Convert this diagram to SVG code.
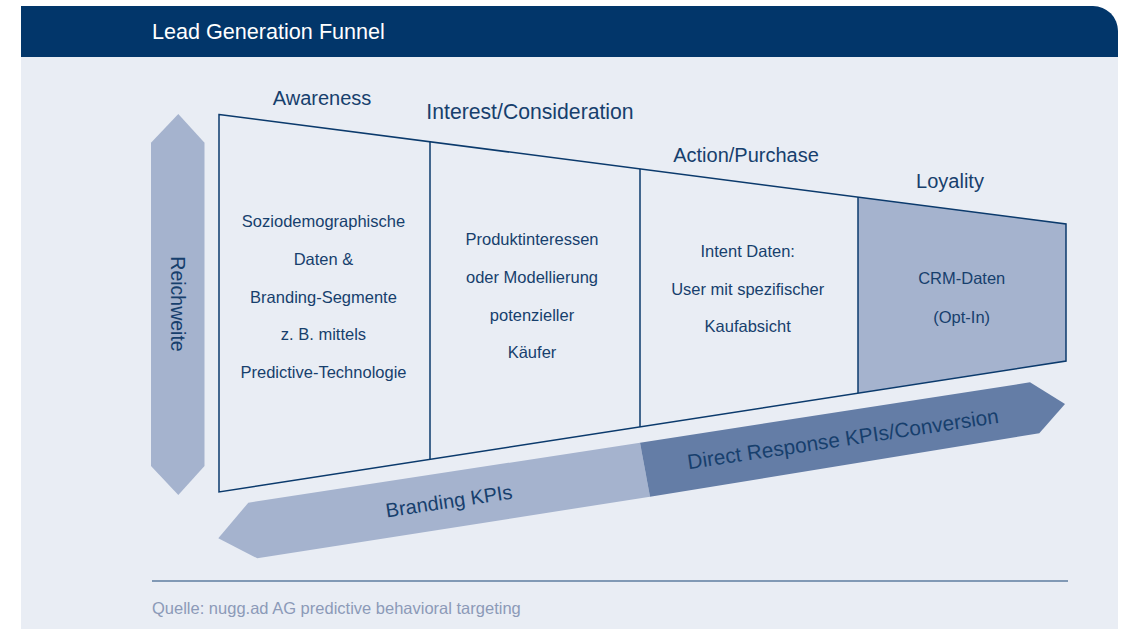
<svg xmlns="http://www.w3.org/2000/svg" width="1121" height="629" viewBox="0 0 1121 629">
  <style>
    .lbl { font-family: "Liberation Sans", Arial, sans-serif; fill: #173F6D; }
    .stage { font-size: 20px; text-anchor: middle; }
    .body { font-size: 16.5px; text-anchor: middle; }
    .band { font-size: 20px; text-anchor: middle; }
    .edge { fill: none; stroke: #0B3A6C; stroke-width: 1.5; }
    .light { fill: #A5B3CE; }
    .dark { fill: #647DA6; }
  </style>

  <!-- page and panel -->
  <rect x="0" y="0" width="1121" height="629" fill="#FFFFFF"/>
  <rect x="21" y="57" width="1097" height="572" fill="#E9EDF4"/>
  <path d="M21,6 H1093 A25,25 0 0 1 1118,31 V57 H21 Z" fill="#02366A"/>
  <text x="152" y="39" font-family="'Liberation Sans', Arial, sans-serif" font-size="21.6" fill="#FFFFFF">Lead Generation Funnel</text>

  <!-- reach arrow -->
  <g id="reichweite">
    <polygon class="light" points="178.3,114 204.5,142.7 204.5,466 178.3,495 151,466 151,142.7"/>
    <text class="lbl" transform="translate(177.5,304) rotate(90)" x="0" y="7" font-size="19.5" text-anchor="middle">Reichweite</text>
  </g>

  <!-- KPI band -->
  <g id="branding-kpis">
    <polygon class="light" points="248.3,502.7 640,442.7 650,496.7 257.3,558.3 218.3,538.3"/>
    <text class="lbl band" transform="translate(450,508) rotate(-8.5)">Branding KPIs</text>
  </g>
  <g id="direct-response-kpis">
    <polygon class="dark" points="640,442.7 1030,382.3 1065,404 1039.3,433.3 650,496.7"/>
    <text class="lbl band" transform="translate(844,446) rotate(-8.5)" style="font-size:20.8px">Direct Response KPIs/Conversion</text>
  </g>

  <!-- funnel stages -->
  <g id="stage-loyality">
    <polygon class="light" points="858,197.1 1066,224 1066,361 858,393.1"/>
    <text class="lbl stage" x="950" y="188">Loyality</text>
    <text class="lbl body" x="961.7" y="284.3">CRM-Daten</text>
    <text class="lbl body" x="961.7" y="323.3">(Opt-In)</text>
  </g>
  <g id="stage-awareness">
    <text class="lbl stage" x="322" y="104.5">Awareness</text>
    <text class="lbl body" x="323.5" y="226.7">Soziodemographische</text>
    <text class="lbl body" x="323.5" y="265">Daten &amp;</text>
    <text class="lbl body" x="323.5" y="302.7">Branding-Segmente</text>
    <text class="lbl body" x="323.5" y="340">z. B. mittels</text>
    <text class="lbl body" x="323.5" y="378">Predictive-Technologie</text>
  </g>
  <g id="stage-interest">
    <text class="lbl stage" x="530" y="118.5" style="font-size:21.2px">Interest/Consideration</text>
    <text class="lbl body" x="532" y="245">Produktinteressen</text>
    <text class="lbl body" x="532" y="282.7">oder Modellierung</text>
    <text class="lbl body" x="532" y="320.7">potenzieller</text>
    <text class="lbl body" x="532" y="358.3">Käufer</text>
  </g>
  <g id="stage-action">
    <text class="lbl stage" x="746" y="161.5">Action/Purchase</text>
    <text class="lbl body" x="747.7" y="257.3">Intent Daten:</text>
    <text class="lbl body" x="747.7" y="295">User mit spezifischer</text>
    <text class="lbl body" x="747.7" y="331.7">Kaufabsicht</text>
  </g>

  <!-- funnel outline and stage dividers -->
  <g id="connectors">
    <polygon class="edge" points="219,114.5 1066,224 1066,361 219,492"/>
    <line class="edge" x1="430" y1="141.8" x2="430" y2="459.4"/>
    <line class="edge" x1="640" y1="168.9" x2="640" y2="426.9"/>
    <line class="edge" x1="858" y1="197.1" x2="858" y2="393.1"/>
  </g>

  <!-- source line -->
  <line x1="152" y1="581" x2="1068" y2="581" stroke="#1B4677" stroke-width="1.2"/>
  <text x="152" y="614" font-family="'Liberation Sans', Arial, sans-serif" font-size="16.5" fill="#8C9AB8">Quelle: nugg.ad AG predictive behavioral targeting</text>
</svg>
